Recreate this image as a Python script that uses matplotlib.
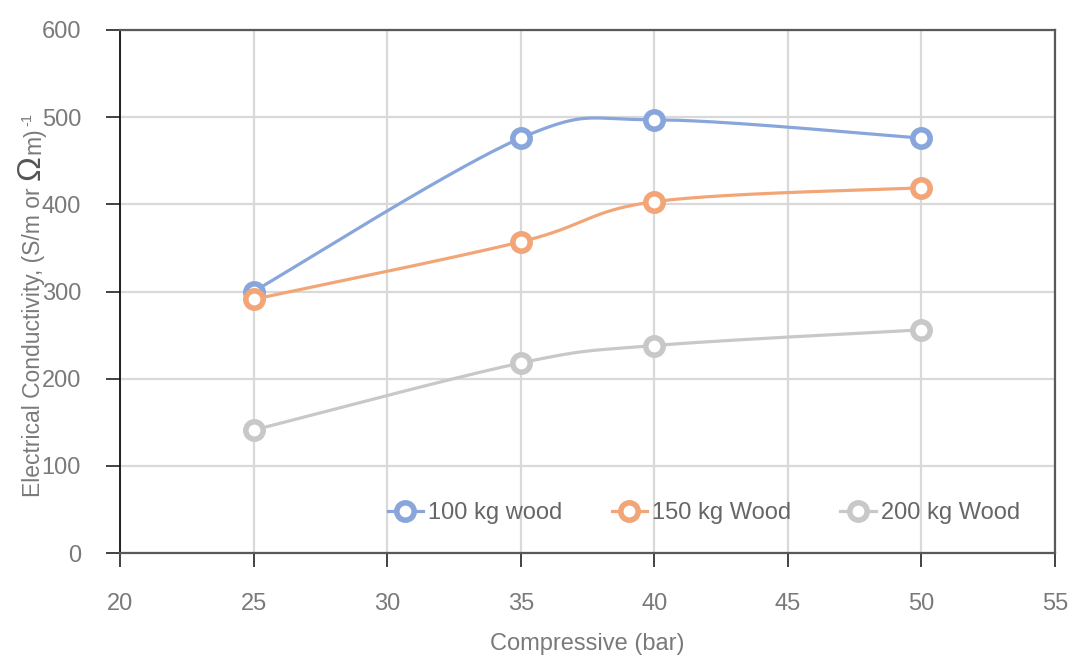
import numpy as np
import matplotlib
matplotlib.use("Agg")
import matplotlib.pyplot as plt
from matplotlib.lines import Line2D

# Data
pressure = [25, 35, 40, 50]
wood_100 = [300, 476, 497, 476]
wood_150 = [291, 357, 403, 419]
wood_200 = [141, 218, 238, 256]
series_labels = ["100 kg wood", "150 kg Wood", "200 kg Wood"]
colors = ["#88a6dc", "#f2a677", "#c8c8c8"]

x_ticks = [20, 25, 30, 35, 40, 45, 50, 55]
y_ticks = [0, 100, 200, 300, 400, 500, 600]

plt.rcParams["font.family"] = ["Liberation Sans", "DejaVu Sans"]
text_color = "#7a7a7a"
W, H = 1072, 657


def smooth_curve(xs, ys, n=60):
    """Piecewise cubic Bezier through the points (spreadsheet-style smoothing)."""
    P = np.column_stack([xs, ys]).astype(float)
    m = len(P)
    out = []
    for i in range(m - 1):
        p_prev = P[i - 1] if i > 0 else P[i]
        p_next2 = P[i + 2] if i + 2 < m else P[i + 1]
        c1 = P[i] + (P[i + 1] - p_prev) / 6.0
        c2 = P[i + 1] - (p_next2 - P[i]) / 6.0
        t = np.linspace(0, 1, n)[:, None]
        seg = ((1 - t) ** 3) * P[i] + 3 * ((1 - t) ** 2) * t * c1 \
            + 3 * (1 - t) * t ** 2 * c2 + t ** 3 * P[i + 1]
        out.append(seg if i == 0 else seg[1:])
    curve = np.vstack(out)
    return curve[:, 0], curve[:, 1]


fig = plt.figure(figsize=(W / 100, H / 100), dpi=100)
ax = fig.add_axes([120 / W, 1 - 553 / H, 935 / W, 523 / H])

ax.set_xlim(20, 55)
ax.set_ylim(0, 600)
ax.set_xticks(x_ticks)
ax.set_yticks(y_ticks)
ax.grid(True, color="#d9d9d9", linewidth=1.6)
ax.set_axisbelow(True)

mk = dict(marker="o", markersize=12.5, markerfacecolor="white",
          markeredgewidth=4.0)
handles = []
for ys, col, lab in zip([wood_100, wood_150, wood_200], colors, series_labels):
    sx, sy = smooth_curve(pressure, ys)
    ax.plot(sx, sy, color=col, linewidth=2.3, solid_capstyle="round", zorder=3)
    ax.plot(pressure, ys, linestyle="none", markeredgecolor=col, zorder=4, **mk)
    handles.append(Line2D([0], [0], color=col, linewidth=2.3,
                          markeredgecolor=col, label=lab, **mk))

for side in ["top", "right", "bottom"]:
    ax.spines[side].set_color("#595959")
    ax.spines[side].set_linewidth(1.6)
ax.spines["left"].set_color("#111111")
ax.spines["left"].set_linewidth(1.3)

ax.tick_params(axis="both", direction="out", length=10, width=1.2,
               colors="#222222", labelcolor=text_color, labelsize=17)
ax.tick_params(axis="x", pad=19)
ax.tick_params(axis="y", pad=18)

ax.set_xlabel("Compressive (bar)", fontsize=17, color=text_color, labelpad=13)

ax.legend(handles=handles, loc="lower right", bbox_to_anchor=(0.985, 0.015),
          ncol=3, frameon=False, fontsize=17, labelcolor="#666666",
          handlelength=1.5, handletextpad=0.2, columnspacing=2.1)

# Rotated y label assembled from pieces so the Omega can be drawn larger
fig.canvas.draw()
renderer = fig.canvas.get_renderer()
base_x = 40 / W
y_px = H - 497
parts = [("Electrical Conductivity, (S/m or ", 16.5, 0, text_color),
         ("\u03A9", 24, 0, "#555555"),
         ("m)", 16.5, 0, text_color),
         ("-1", 10.5, -9, text_color)]
for txt, size, shift, col in parts:
    t = fig.text(base_x + shift / W, y_px / H, txt, rotation=90,
                 rotation_mode="anchor", ha="left", va="baseline",
                 fontsize=size, color=col)
    bb = t.get_window_extent(renderer)
    y_px = bb.y1 + 1

fig.savefig("out.png", dpi=100, facecolor="white")
